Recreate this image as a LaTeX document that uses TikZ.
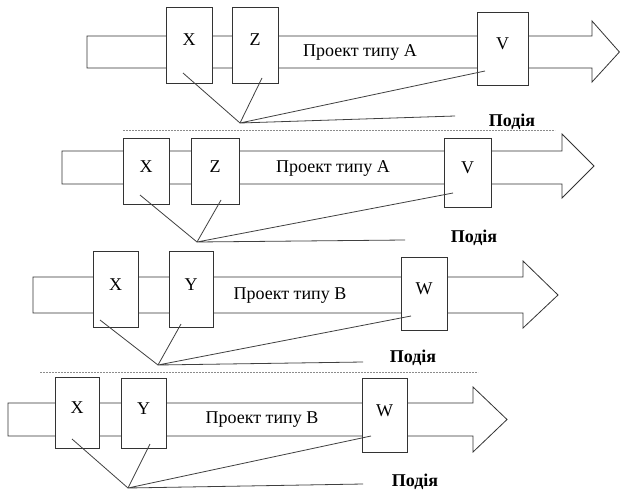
\documentclass[tikz,border=0pt]{standalone}
\usepackage{fontspec}
\setmainfont{Liberation Serif}
\begin{document}
\begin{tikzpicture}[x=1pt,y=-1pt,
  line width=0.8pt,
  lc/.style={draw=black!80},
  stage/.style={lc,fill=white,inner sep=0pt,text height=12pt,text depth=10pt,
     font=\fontsize{18}{20}\selectfont},
  ptext/.style={inner sep=0pt,font=\fontsize{18}{20}\selectfont},
  evtext/.style={inner sep=0pt,font=\fontsize{18}{20}\selectfont\bfseries},
  link/.style={draw=black!75,line width=0.8pt},
  sep/.style={draw=black!45,line width=0.6pt,dash pattern=on 2pt off 1pt}]
\useasboundingbox (0,0) rectangle (620,492);
\fill[white] (0,0) rectangle (620,492);

% ---------- separators ----------
\coordinate (s1a) at (123,130); \coordinate (s1b) at (555,130);
\coordinate (s2a) at (40,372);  \coordinate (s2b) at (478,372);
\draw[sep] (s1a) -- (s1b);
\draw[sep] (s2a) -- (s2b);

% ---------- panel 1 ----------
\draw[lc] (87,36) -- (592,36) -- (592,21) -- (619.4,52) -- (592,82) -- (592,68) -- (87,68) -- cycle;
\node[stage,minimum width=46pt,minimum height=76pt] (x1) at (189,45) {X};
\node[stage,minimum width=46pt,minimum height=76pt] (z1) at (255,45) {Z};
\node[stage,minimum width=51pt,minimum height=73pt] (v1) at (502.5,48.5) {V};
\node[ptext] (t1) at (360,53) {Проект типу A};
\coordinate (a1) at (240,123);
\coordinate (e1) at (455,116);
\coordinate (x1p) at (183,73);
\coordinate (z1p) at (262,78);
\coordinate (v1p) at (485,71);
\draw[link] (x1p) -- (a1);
\draw[link] (z1p) -- (a1);
\draw[link] (v1p) -- (a1) -- (e1);
\node[evtext] (p1) at (512,122) {Подія};

% ---------- panel 2 ----------
\draw[lc] (62,151) -- (562,151) -- (562,134) -- (594,166) -- (562,198) -- (562,184) -- (62,184) -- cycle;
\node[stage,minimum width=46pt,minimum height=66pt] (x2) at (146,171) {X};
\node[stage,minimum width=48pt,minimum height=66pt] (z2) at (215,171) {Z};
\node[stage,minimum width=47pt,minimum height=69pt] (v2) at (467.5,172.5) {V};
\node[ptext] (t2) at (333,168) {Проект типу A};
\coordinate (a2) at (197,242);
\coordinate (e2) at (405,240);
\coordinate (x2p) at (140,195);
\coordinate (z2p) at (221,200);
\coordinate (v2p) at (453,193);
\draw[link] (x2p) -- (a2);
\draw[link] (z2p) -- (a2);
\draw[link] (v2p) -- (a2) -- (e2);
\node[evtext] (p2) at (474,238) {Подія};

% ---------- panel 3 ----------
\draw[lc] (33,277) -- (523,277) -- (523,261) -- (558,295) -- (523,328) -- (523,313) -- (33,313) -- cycle;
\node[stage,minimum width=45pt,minimum height=76pt] (x3) at (115.5,289) {X};
\node[stage,minimum width=44pt,minimum height=76pt] (y3) at (191,289) {Y};
\node[stage,minimum width=46pt,minimum height=73pt] (w3) at (424,293.5) {W};
\node[ptext] (t3) at (290,296) {Проект типу B};
\coordinate (a3) at (158,365);
\coordinate (e3) at (363,362);
\coordinate (x3p) at (100,320);
\coordinate (y3p) at (181,324);
\coordinate (w3p) at (411,316);
\draw[link] (x3p) -- (a3);
\draw[link] (y3p) -- (a3);
\draw[link] (w3p) -- (a3) -- (e3);
\node[evtext] (p3) at (413,358) {Подія};

% ---------- panel 4 ----------
\draw[lc] (8,403) -- (473,403) -- (473,387) -- (507,419.5) -- (473,452) -- (473,436) -- (8,436) -- cycle;
\node[stage,minimum width=44pt,minimum height=71pt] (x4) at (77,412.5) {X};
\node[stage,minimum width=45pt,minimum height=70pt] (y4) at (143.5,413) {Y};
\node[stage,minimum width=45pt,minimum height=74pt] (w4) at (384.5,415) {W};
\node[ptext] (t4) at (262,420) {Проект типу B};
\coordinate (a4) at (128,488);
\coordinate (e4) at (363,484);
\coordinate (x4p) at (72,439);
\coordinate (y4p) at (150,444);
\coordinate (w4p) at (371,436);
\draw[link] (x4p) -- (a4);
\draw[link] (y4p) -- (a4);
\draw[link] (w4p) -- (a4) -- (e4);
\node[evtext] (p4) at (415,482) {Подія};
\end{tikzpicture}
\end{document}
